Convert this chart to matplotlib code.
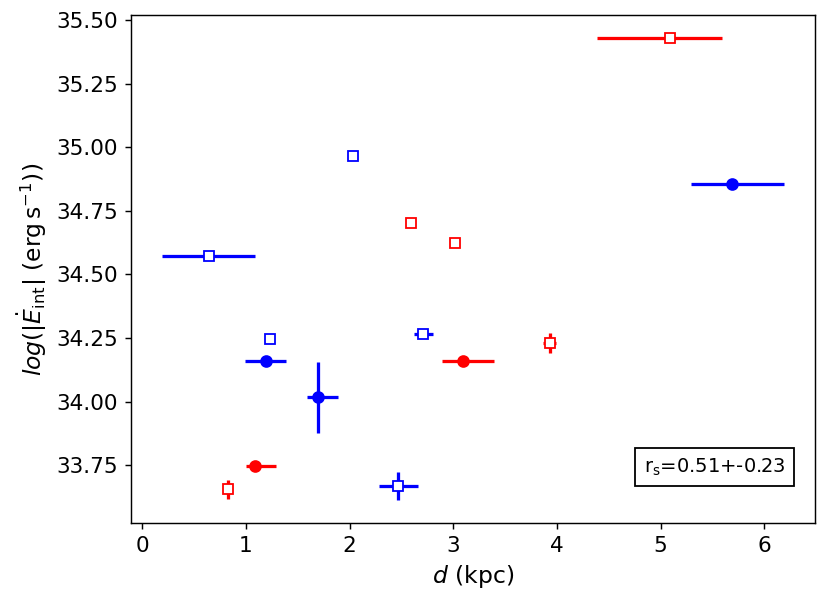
import matplotlib
matplotlib.use("Agg")
import matplotlib.pyplot as plt

# red, open squares
rs_d = [0.83, 2.59, 3.02, 3.93, 5.09]
rs_e = [33.655, 34.703, 34.624, 34.23, 35.43]
rs_dlo = [0.0, 0.0, 0.0, 0.06, 0.7]
rs_dhi = [0.0, 0.0, 0.0, 0.06, 0.5]
rs_eerr = [0.037, 0.0, 0.0, 0.04, 0.0]

# red, filled circles
rc_d = [1.09, 3.09]
rc_e = [33.745, 34.158]
rc_dlo = [0.09, 0.2]
rc_dhi = [0.2, 0.3]

# blue, open squares
bs_d = [0.64, 1.23, 2.03, 2.71, 2.47]
bs_e = [34.571, 34.247, 34.968, 34.265, 33.667]
bs_dlo = [0.45, 0.0, 0.0, 0.09, 0.19]
bs_dhi = [0.45, 0.0, 0.0, 0.09, 0.19]
bs_eerr = [0.0, 0.0, 0.0, 0.0, 0.054]

# blue, filled circles
bc_d = [1.19, 1.69, 5.69]
bc_e = [34.158, 34.016, 34.856]
bc_dlo = [0.2, 0.1, 0.4]
bc_dhi = [0.2, 0.2, 0.5]
bc_eerr = [0.0, 0.14, 0.0]

fig = plt.figure(figsize=(830/130, 607/130), dpi=130)
ax = fig.add_axes([131/830, 1-523/607, 684/830, 508/607])

lw = 1.8
ax.errorbar(rs_d, rs_e, xerr=[rs_dlo, rs_dhi], yerr=rs_eerr, fmt='s', color='red',
            mfc='white', mec='red', ls='none', elinewidth=lw)
ax.errorbar(rc_d, rc_e, xerr=[rc_dlo, rc_dhi], fmt='o', color='red', ls='none', elinewidth=lw)
ax.errorbar(bs_d, bs_e, xerr=[bs_dlo, bs_dhi], yerr=bs_eerr, fmt='s', color='blue',
            mfc='white', mec='blue', ls='none', elinewidth=lw)
ax.errorbar(bc_d, bc_e, xerr=[bc_dlo, bc_dhi], yerr=bc_eerr, fmt='o', color='blue', ls='none',
            elinewidth=lw)

ax.set_xlabel(r'$d$ (kpc)', fontsize=13)
ax.set_ylabel(r'$log(|\dot{E}_{\rm int}|$ (erg$\,$s$^{-1}$))', fontsize=13)
ax.set_xticks([0, 1, 2, 3, 4, 5, 6])
ax.set_yticks([33.75, 34.0, 34.25, 34.5, 34.75, 35.0, 35.25, 35.5])
ax.tick_params(labelsize=12)

ax.text(0.853, 0.11, r'r$_{\rm s}$=0.51+-0.23', transform=ax.transAxes, ha='center', va='center',
        fontsize=10.8, bbox=dict(boxstyle='square,pad=0.42', facecolor='white', edgecolor='black'))

fig.savefig("out.png", dpi=130)
